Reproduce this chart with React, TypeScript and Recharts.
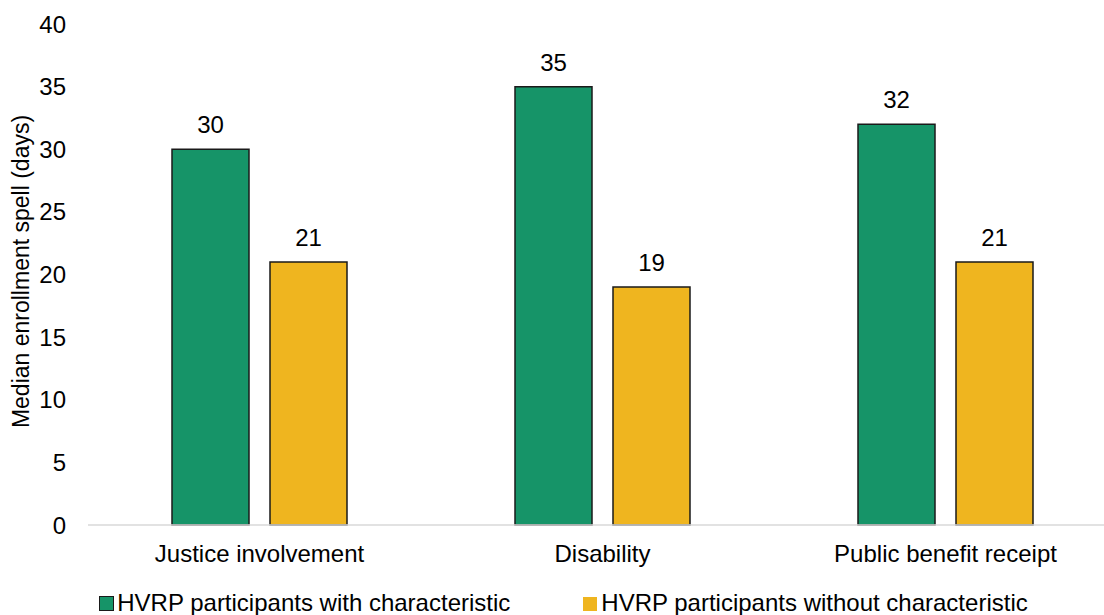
import React from "react";
import {
  BarChart,
  Bar,
  XAxis,
  YAxis,
  Legend,
  LabelList,
} from "recharts";

const categories = ["Justice involvement", "Disability", "Public benefit receipt"];
const withCharacteristic = [30, 35, 32];
const withoutCharacteristic = [21, 19, 21];
const yTicks = [0, 5, 10, 15, 20, 25, 30, 35, 40];

const seriesNames = {
  with: "HVRP participants with characteristic",
  without: "HVRP participants without characteristic",
};

const GREEN = "#169468";
const YELLOW = "#EFB51F";
const FONT = "'Liberation Sans', Arial, sans-serif";
const textStyle = { fontFamily: FONT, fontSize: 24, fill: "#000" };

const data = categories.map((name, i) => ({
  name,
  with: withCharacteristic[i],
  without: withoutCharacteristic[i],
}));

const LegendContent = () => (
  <div
    style={{
      display: "flex",
      justifyContent: "center",
      gap: 73,
      paddingTop: 14,
      fontFamily: FONT,
      fontSize: 24,
      lineHeight: "27px",
      color: "#000",
      whiteSpace: "nowrap",
    }}
  >
    <span style={{ display: "flex", alignItems: "center" }}>
      <span
        style={{
          width: 13,
          height: 13,
          background: GREEN,
          border: "1px solid #1a1a1a",
          marginRight: 3,
          marginTop: 2,
        }}
      />
      {seriesNames.with}
    </span>
    <span style={{ display: "flex", alignItems: "center" }}>
      <span
        style={{
          width: 14,
          height: 14,
          background: YELLOW,
          marginRight: 4,
          marginTop: 2,
        }}
      />
      {seriesNames.without}
    </span>
  </div>
);

// rotated axis title, centred on the plot area
const YLabel = (props: any) => {
  const vb = props.viewBox || {};
  const cx = 21;
  const cy = (vb.y || 0) + (vb.height || 0) / 2 - 3;
  return (
    <text
      x={cx}
      y={cy}
      transform={`rotate(-90 ${cx} ${cy})`}
      textAnchor="middle"
      dominantBaseline="central"
      style={{ fontFamily: FONT, fontSize: 23, fill: "#000" }}
    >
      Median enrollment spell (days)
    </text>
  );
};

export default function App() {
  return (
    <div
      style={{
        position: "absolute",
        left: 0,
        top: 0,
        width: 1104,
        height: 615,
        overflow: "hidden",
        background: "#fff",
      }}
    >
      <BarChart
        width={1130}
        height={615}
        data={data}
        margin={{ top: 24, right: 13, bottom: 0, left: 0 }}
        barSize={77}
        barGap={21}
      >
        <XAxis
          dataKey="name"
          height={50}
          tickLine={false}
          tickSize={0}
          tickMargin={20}
          axisLine={{ stroke: "#d9d9d9", strokeWidth: 1.5 }}
          tick={textStyle}
        />
        <YAxis
          width={88}
          domain={[0, 40]}
          ticks={yTicks}
          interval={0}
          axisLine={false}
          tickLine={false}
          tickSize={0}
          tickMargin={22}
          tick={textStyle}
          label={<YLabel />}
        />
        <Legend
          verticalAlign="bottom"
          height={40}
          wrapperStyle={{ left: 0, width: 1127 }}
          content={<LegendContent />}
        />
        <Bar
          dataKey="with"
          name={seriesNames.with}
          fill={GREEN}
          stroke="#1a1a1a"
          strokeWidth={1.5}
          isAnimationActive={false}
        >
          <LabelList dataKey="with" position="top" offset={16} style={textStyle} />
        </Bar>
        <Bar
          dataKey="without"
          name={seriesNames.without}
          fill={YELLOW}
          stroke="#1a1a1a"
          strokeWidth={1.5}
          isAnimationActive={false}
        >
          <LabelList dataKey="without" position="top" offset={16} style={textStyle} />
        </Bar>
      </BarChart>
    </div>
  );
}
